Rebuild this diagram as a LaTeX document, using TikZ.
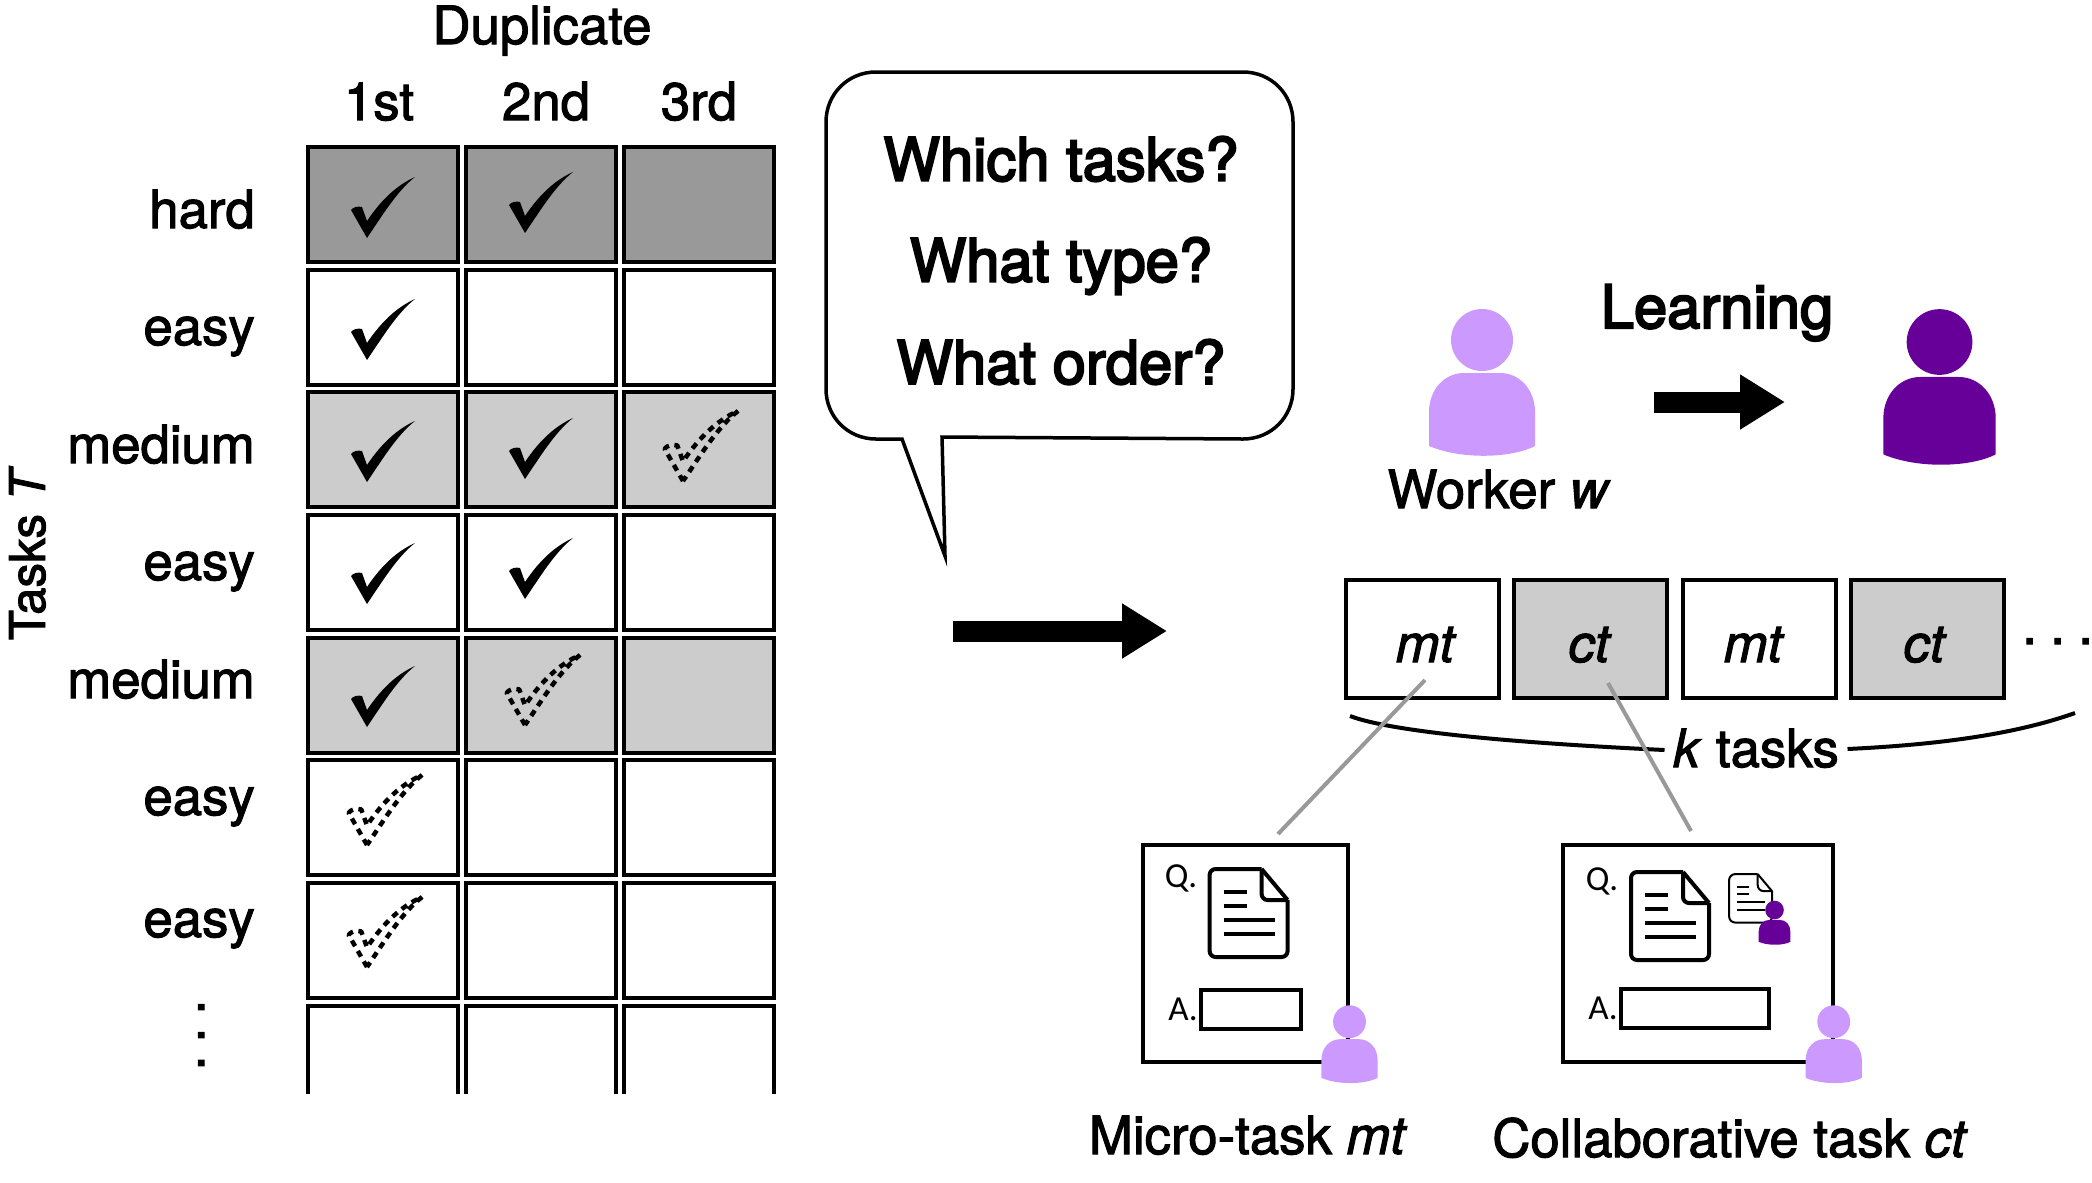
\documentclass[tikz,border=0pt]{standalone}
\usepackage{fontspec}
\setmainfont[FakeBold=2]{TeX Gyre Heros}
\newfontfamily\bigfont[FakeBold=3.5]{TeX Gyre Heros}
\newfontfamily\smallfont{Carlito}
\usetikzlibrary{arrows.meta}
\definecolor{hardgray}{HTML}{999999}
\definecolor{softgray}{HTML}{CCCCCC}
\definecolor{lightworker}{HTML}{CC99FF}
\definecolor{darkworker}{HTML}{660099}
% shape of one check mark, its lowest point at the origin
\def\checkshape{(0,0) -- (-16,-28) .. controls (-14,-31) and (-9,-32) .. (-5,-31) -- (0,-17) .. controls (14,-38) and (30,-53) .. (48,-61) .. controls (30,-47) and (15,-22) .. cycle}
\tikzset{
	cellbox/.style={draw,line width=0.4mm,minimum width=1.5cm,minimum height=1.15cm,inner sep=0pt},
	taskbox/.style={draw,line width=0.4mm,minimum width=1.53cm,minimum height=1.18cm,inner sep=0pt},
	txt/.style={font=\fontsize{15}{18}\selectfont,inner sep=0pt},
	bigtxt/.style={font=\bigfont\fontsize{17}{20}\selectfont,inner sep=0pt},
	qa/.style={font=\smallfont\fontsize{10}{12}\selectfont,inner sep=0pt},
	grayline/.style={draw=hardgray,line width=0.4mm},
	fatarrow/.style={line width=0.21cm,-{Triangle[length=0.45cm,width=0.52cm]}},
	pics/okmark/.style={code={\fill \checkshape;}},
	pics/dashmark/.style={code={\draw[line width=0.45mm,line join=bevel,dash pattern=on 0.65mm off 0.55mm] \checkshape;}},
	pics/worker/.style={code={
		\fill[#1] (0,0) circle (31);
		\fill[#1] (-53,106) -- (-53,72) .. controls (-53,50) and (-38,33) .. (-18,33) -- (18,33) .. controls (38,33) and (53,50) .. (53,72) -- (53,106) .. controls (30,118) and (-20,120) .. cycle;
	}},
	pics/docicon/.style={code={
		\draw[rounded corners=0.6mm,line join=round] (80,33) -- (80,90) -- (2,90) -- (2,2) -- (54,2);
		\draw[line join=round] (54,2) -- (80,33);
		\draw[rounded corners=0.6mm] (54,2) -- (54,33) -- (80,33);
		\draw (16,25) -- (39,25);
		\draw (16,39) -- (39,39);
		\draw (16,53) -- (67,53);
		\draw (16,67) -- (67,67);
	}},
}
\begin{document}
\begin{tikzpicture}[x=0.1mm,y=-0.1mm]
	\useasboundingbox (0,0) rectangle (2092,1182);
	% table of duplicates
	\foreach \r/\yc/\shade in {1/204.5/hardgray,2/327/white,3/449.7/softgray,4/572.3/white,5/695/softgray,6/817.5/white,7/940/white}{
		\foreach \c/\xc in {1/383,2/541,3/699}{
			\node[cellbox,fill=\shade] (cell-\r-\c) at (\xc,\yc) {};
		}
	}
	% last row stays open at the bottom
	\foreach \c/\xa/\xb in {1/308/458,2/466/616,3/624/774}{
		\coordinate (open-\c-a) at (\xa,1094);
		\coordinate (open-\c-b) at (\xb,1094);
		\draw[line width=0.4mm] (open-\c-a) -- (\xa,1006) -- (\xb,1006) -- (open-\c-b);
	}
	% check marks
	\foreach \xc/\yc in {367/238,525/233,367/360,367/482,525/479,367/604,525/599,367/727}{
		\pic at (\xc,\yc) {okmark};
	}
	\foreach \xc/\yc in {683/481,525/725,367/845,367/967}{
		\pic[scale=1.15] at (\xc,\yc) {dashmark};
	}
	% table labels
	\node[txt,anchor=base] (dup) at (542,44) {Duplicate};
	\node[txt,anchor=base] (first) at (379,120) {1st};
	\node[txt,anchor=base] (second) at (546,120) {2nd};
	\node[txt,anchor=base] (third) at (699,120) {3rd};
	\foreach \n/\yc/\lab in {a/228/hard,b/345/easy,c/463/medium,d/580/easy,e/698/medium,f/815/easy,g/937/easy}{
		\node[txt,anchor=base east] (lab-\n) at (255.5,\yc) {\lab};
	}
	\node[txt,anchor=base,rotate=90,font=\fontsize{14}{17}\selectfont] (tasksT) at (45,553) {Tasks \textit{T}};
	\node[txt,anchor=base,rotate=90] (vdots) at (204,1035) {.\kern0.133cm.\kern0.133cm.};
	% speech bubble
	\draw[line width=0.35mm,line join=miter] (902,439) -- (876,439) .. controls (848,439) and (826,417) .. (826,389) -- (826,122) .. controls (826,94) and (848,72) .. (876,72) -- (1243,72) .. controls (1271,72) and (1293,94) .. (1293,122) -- (1293,389) .. controls (1293,417) and (1271,439) .. (1243,439) -- (942,437) -- (945,556) -- cycle;
	\node[bigtxt] (q1) at (1061,159) {Which tasks?};
	\node[bigtxt] (q2) at (1061,266) {What type?};
	\node[bigtxt] (q3) at (1061,362) {What order?};
	\coordinate (go-a) at (953,631);
	\coordinate (go-b) at (1167,631);
	\draw[fatarrow] (go-a) -- (go-b);
	% worker learns
	\pic at (1482,340) {worker=lightworker};
	\pic[scale=1.06] at (1939.5,342) {worker=darkworker};
	\node[bigtxt,anchor=base] (learn) at (1717,328) {Learning};
	\node[txt,anchor=base] (worker) at (1499,508) {Worker \textit{w}};
	\coordinate (learn-a) at (1654,402);
	\coordinate (learn-b) at (1785,402);
	\draw[fatarrow] (learn-a) -- (learn-b);
	% sequence of k tasks
	\foreach \n/\xc/\shade/\xt/\lab in {1/1422/white/1426/mt,2/1590/softgray/1590/ct,3/1759/white/1754/mt,4/1927.5/softgray/1925/ct}{
		\node[taskbox,fill=\shade] (seq-\n) at (\xc,639) {};
		\node[txt,anchor=base] (seqlab-\n) at (\xt,662) {\textit{\lab}};
	}
	\node[txt,anchor=base west] (hdots) at (2021.6,644) {.\kern0.133cm.\kern0.133cm.};
	\node[txt,anchor=base,inner xsep=0.08cm] (ktasks) at (1756,767) {\textit{k} tasks};
	\coordinate (arc-a) at (1350,716);
	\coordinate (arc-b) at (2075,713);
	\draw[line width=0.4mm] (arc-a) .. controls (1400,735) and (1560,745) .. (ktasks.west |- 0,750);
	\draw[line width=0.4mm] (arc-b) .. controls (2010,736) and (1930,745) .. (ktasks.east |- 0,749);
	% the two kinds of task
	\node[draw,line width=0.4mm,minimum width=2.05cm,minimum height=2.17cm,inner sep=0pt] (micro) at (1245.5,953.5) {};
	\node[draw,line width=0.4mm,minimum width=2.70cm,minimum height=2.17cm,inner sep=0pt] (collab) at (1698,953.5) {};
	\coordinate (micro-top) at (1278,834);
	\coordinate (micro-seq) at (1425,680);
	\coordinate (collab-top) at (1691,831);
	\coordinate (collab-seq) at (1608,683);
	\draw[grayline] (micro-seq) -- (micro-top);
	\draw[grayline] (collab-seq) -- (collab-top);
	\node[qa] (q-micro) at (1181,878) {Q.};
	\node[qa] (a-micro) at (1183,1009) {A.};
	\node[qa] (q-collab) at (1602,881) {Q.};
	\node[qa] (a-collab) at (1603,1008) {A.};
	\node[draw,line width=0.4mm,minimum width=1.0cm,minimum height=0.39cm,inner sep=0pt] (ans-micro) at (1250.5,1009.5) {};
	\node[draw,line width=0.4mm,minimum width=1.48cm,minimum height=0.39cm,inner sep=0pt] (ans-collab) at (1695,1008.5) {};
	\pic[line width=0.4mm] at (1207.6,867) {docicon};
	\pic[line width=0.4mm] at (1629,870) {docicon};
	\pic[line width=0.2mm,scale=0.55] at (1728,873) {docicon};
	\pic[scale=0.3] at (1774.5,910) {worker=darkworker};
	\pic[scale=0.53] at (1349.5,1021.7) {worker=lightworker};
	\pic[scale=0.53] at (1833.7,1021.7) {worker=lightworker};
	\node[txt,anchor=base] (micro-lab) at (1248,1154) {Micro-task \textit{mt}};
	\node[txt,anchor=base] (collab-lab) at (1730,1157) {Collaborative task \textit{ct}};
\end{tikzpicture}
\end{document}
